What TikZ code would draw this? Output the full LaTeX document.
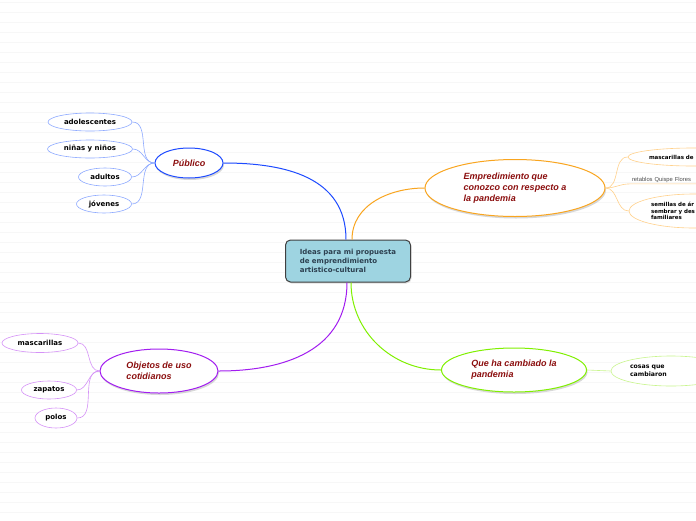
\documentclass[tikz,border=0pt]{standalone}
\usepackage{fontspec}
\usepackage{tikz}
\usetikzlibrary{shapes.geometric, shadows}
\newfontfamily\dejavu{DejaVu Sans}
\newfontfamily\arialf{Liberation Sans}
\definecolor{ideafill}{HTML}{9ED4E1}
\definecolor{ideatext}{HTML}{2C4050}
\definecolor{topictext}{HTML}{8B0E0E}
\definecolor{pubblue}{HTML}{1E4BFF}
\definecolor{publight}{HTML}{8EAAFF}
\definecolor{emporange}{HTML}{F9A51F}
\definecolor{emplight}{HTML}{FFD18C}
\definecolor{chgreen}{HTML}{80F000}
\definecolor{chlight}{HTML}{C8F58C}
\definecolor{objpurple}{HTML}{A21DF0}
\definecolor{objlight}{HTML}{D592F7}
\tikzstyle{idea} = [rectangle, rounded corners=5pt, minimum width=125pt, minimum height=42pt, draw=black!75, line width=1pt, fill=ideafill, text=ideatext, align=left, font=\dejavu\bfseries\fontsize{7}{9}\selectfont, drop shadow={opacity=0.25, shadow xshift=1pt, shadow yshift=-1.5pt}]
\tikzstyle{topic} = [ellipse, inner sep=0pt, line width=1pt, fill=white, text=topictext, align=left, font=\arialf\bfseries\itshape\fontsize{9}{11}\selectfont, drop shadow={opacity=0.3, shadow xshift=1pt, shadow yshift=-2pt}]
\tikzstyle{leaf} = [ellipse, inner sep=0pt, line width=0.6pt, fill=white, minimum height=18pt, align=left, font=\dejavu\bfseries\fontsize{7}{8.5}\selectfont]
\tikzstyle{link} = [line width=1pt]
\tikzstyle{twig} = [line width=0.6pt]
\tikzstyle{bgline} = [black!3, line width=1pt]

\begin{document}
\begin{tikzpicture}[x=1pt, y=-1pt]

\useasboundingbox (0,0) rectangle (696,520);
\clip (0,0) rectangle (696,520);
\fill[white] (0,0) rectangle (696,520);
\foreach \y in {2,12,...,512}
  \draw[bgline] (0,\y) -- (696,\y);

% Central idea
\node (idea) [idea] at (348,261) {Ideas para mi propuesta\\de emprendimiento\\artistico-cultural};

% Main topics
\node (publico) [topic, draw=pubblue, minimum width=68pt, minimum height=30pt] at (189,163) {Público};
\node (emprend) [topic, draw=emporange, minimum width=180pt, minimum height=57pt] at (515,188) {Empredimiento que\\conozco con respecto a\\la pandemia};
\node (cambio) [topic, draw=chgreen, minimum width=145pt, minimum height=44pt] at (514,370) {Que ha cambiado la\\pandemia};
\node (objetos) [topic, draw=objpurple, minimum width=118pt, minimum height=44pt] at (159,371) {Objetos de uso\\cotidianos};

% Publico
\node (adolesc) [leaf, draw=publight, minimum width=84pt] at (90,122) {adolescentes};
\node (ninos) [leaf, draw=publight, minimum width=85pt] at (90,149) {niñas y niños};
\node (adultos) [leaf, draw=publight, minimum width=53pt] at (105,177) {adultos};
\node (jovenes) [leaf, draw=publight, minimum width=55pt] at (104,204) {jóvenes};

% Emprendimiento
\node (mascarE) [leaf, draw=emplight, minimum width=130pt, text width=88pt, font=\dejavu\bfseries\fontsize{5.5}{6.5}\selectfont] at (693,157) {mascarillas de};
\node (retablos) [inner sep=1pt, minimum width=80pt, text width=76pt, align=left, text=black!70, font=\arialf\fontsize{5.8}{7}\selectfont] at (670,180) {retablos Quispe Flores};
\node (semillas) [leaf, draw=emplight, minimum width=130pt, minimum height=34pt, text width=86pt, font=\dejavu\bfseries\fontsize{5.5}{6.5}\selectfont] at (694,211) {semillas de ár\\sembrar y des\\familiares};

% Cambio
\node (cosas) [leaf, draw=chlight, minimum width=120pt, minimum height=30pt, text width=82pt, font=\dejavu\bfseries\fontsize{6.2}{7.5}\selectfont] at (671,371) {cosas que\\cambiaron};

% Objetos
\node (mascarO) [leaf, draw=objlight, minimum width=76pt, minimum height=19pt] at (40,343) {mascarillas};
\node (zapatos) [leaf, draw=objlight, minimum width=55pt] at (49,390) {zapatos};
\node (polos) [leaf, draw=objlight, minimum width=42pt, minimum height=20pt] at (56,418) {polos};

% Connections
\draw [link, pubblue] (idea.north) ++(-2,0) to[out=90, in=0, looseness=1.1] (publico.east);
\draw [link, emporange] (idea.north) ++(4,0) to[out=90, in=180, looseness=1] (emprend.west);
\draw [link, objpurple] (idea.south) ++(-1,0) to[out=-90, in=0, looseness=1.1] (objetos.east);
\draw [link, chgreen] (idea.south) ++(3,0) to[out=-90, in=180, looseness=1] (cambio.west);

\foreach \n in {adolesc, ninos, adultos, jovenes}
  \draw [twig, publight] (publico.west) to[out=180, in=0] (\n.east);
\foreach \n in {mascarO, zapatos, polos}
  \draw [twig, objlight] (objetos.west) to[out=180, in=0] (\n.east);
\draw [twig, emplight] (emprend.east) to[out=0, in=180] (mascarE.west);
\draw [twig, emplight] (emprend.east) to[out=0, in=180] (retablos.south west) -- (retablos.south east);
\draw [twig, emplight] (emprend.east) to[out=0, in=180] (semillas.west);
\draw [twig, chlight] (cambio.east) -- (cosas.west);

\end{tikzpicture}
\end{document}
